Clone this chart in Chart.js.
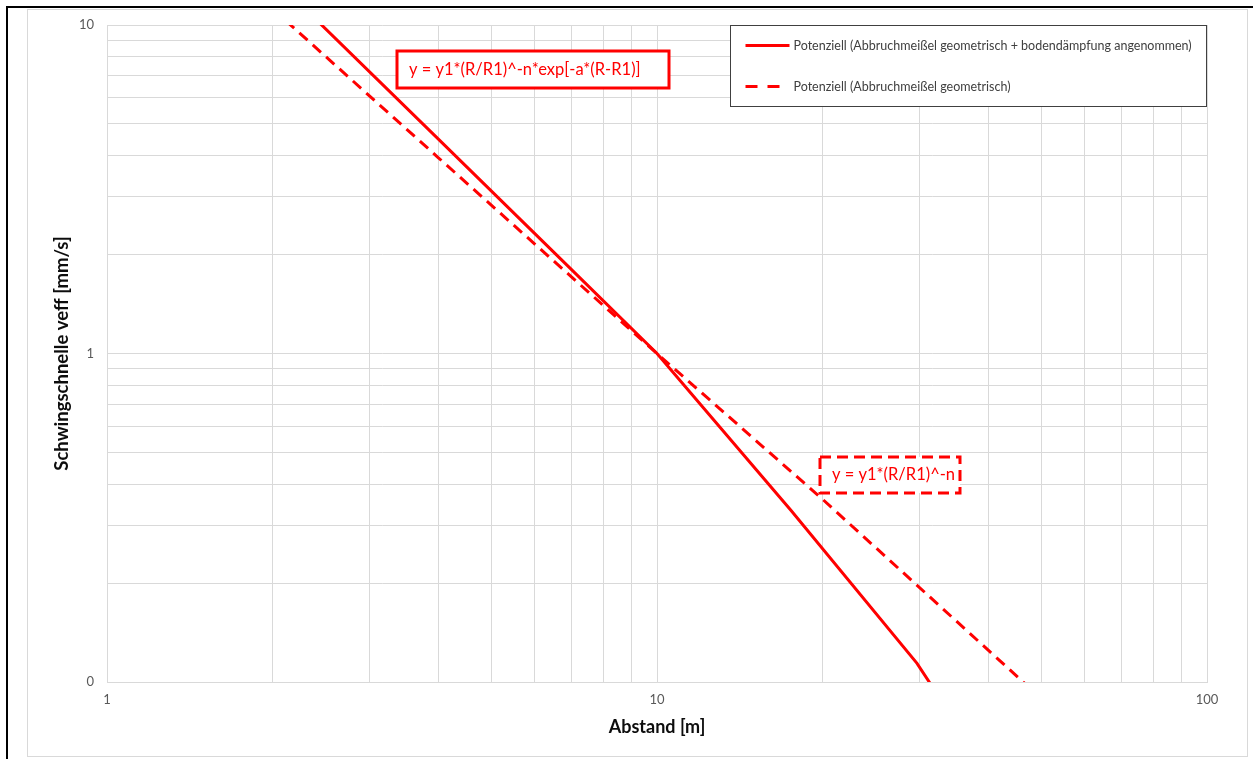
<!DOCTYPE html>
<html>
<head>
<meta charset="utf-8">
<script src="https://cdn.jsdelivr.net/npm/chart.js@4.4.0/dist/chart.umd.min.js"></script>
<style>
    html, body { margin: 0; padding: 0; background: #fff; }
    #wrap { position: relative; width: 1253px; height: 759px; }
</style>
</head>
<body>
<div id="wrap"><canvas id="veffChart" width="1253" height="759"></canvas></div>
<script>
// Abstand [m] / Schwingschnelle [mm/s]
const abstandSolid = [2, 4, 6.7, 10, 17.5, 29.7, 50];
const veffSolid = [14.0, 4.5, 1.93, 1.0, 0.334, 0.114, 0.03];

const abstandDashed = [2, 4, 10, 20, 50];
const veffDashed = [11.2, 3.95, 1.0, 0.36, 0.089];

const xTicks = [1, 2, 3, 4, 5, 6, 7, 8, 9, 10, 20, 30, 40, 50, 60, 70, 80, 90, 100];
const yTicks = [0.1, 0.2, 0.3, 0.4, 0.5, 0.6, 0.7, 0.8, 0.9, 1, 2, 3, 4, 5, 6, 7, 8, 9, 10];
const xLabels = { 1: '1', 10: '10', 100: '100' };
const yLabels = { 0.1: '0', 1: '1', 10: '10' };

const seriesNames = [
    'Potenziell (Abbruchmeißel geometrisch + bodendämpfung angenommen)',
    'Potenziell (Abbruchmeißel geometrisch)'
];
const formulaSolid = 'y = y1*(R/R1)^-n*exp[-a*(R-R1)]';
const formulaDashed = 'y = y1*(R/R1)^-n';

const RED = '#ff0000';
const GRID = '#d9d9d9';

function toPoints(xs, ys) {
    return xs.map((x, i) => ({ x: x, y: ys[i] }));
}

// outer frame like the exported picture
const framePlugin = {
    id: 'frame',
    beforeDraw(chart) {
        const ctx = chart.ctx;
        ctx.save();
        ctx.fillStyle = '#fff';
        ctx.fillRect(0, 0, chart.width, chart.height);
        ctx.strokeStyle = '#d9d9d9';
        ctx.lineWidth = 1;
        ctx.strokeRect(27.5, 9.5, 1220, 747);
        ctx.strokeStyle = '#000';
        ctx.lineWidth = 2;
        ctx.beginPath();
        ctx.moveTo(7, 759);
        ctx.lineTo(7, 7);
        ctx.lineTo(1253, 7);
        ctx.stroke();
        ctx.restore();
    }
};

// legend box + formula boxes
const boxPlugin = {
    id: 'boxes',
    afterDatasetsDraw(chart) {
        const ctx = chart.ctx;
        const area = chart.chartArea;
        ctx.save();

        // legend
        const lx = 730.5, ly = 25.5, lw = 476, lh = 81;
        ctx.fillStyle = '#fff';
        ctx.fillRect(lx, ly, lw, lh);
        ctx.strokeStyle = '#404040';
        ctx.lineWidth = 1;
        ctx.strokeRect(lx, ly, lw, lh);
        ctx.font = '12.5px Lato';
        ctx.fillStyle = '#404040';
        ctx.textBaseline = 'middle';
        chart.data.datasets.forEach((ds, i) => {
            const yy = ly + 20 + i * 41;
            ctx.strokeStyle = ds.borderColor;
            ctx.lineWidth = 3;
            ctx.setLineDash(ds.borderDash ? [12, 10] : []);
            ctx.beginPath();
            ctx.moveTo(lx + 15, yy);
            ctx.lineTo(lx + 59, yy);
            ctx.stroke();
            ctx.setLineDash([]);
            ctx.fillText(ds.label, lx + 63, yy);
        });

        // formula boxes
        const drawBox = (x, y, w, h, text, dash) => {
            ctx.fillStyle = '#fff';
            ctx.fillRect(x, y, w, h);
            ctx.strokeStyle = RED;
            ctx.lineWidth = 3;
            ctx.setLineDash(dash);
            ctx.strokeRect(x, y, w, h);
            ctx.setLineDash([]);
            ctx.fillStyle = RED;
            ctx.font = '16.5px Lato';
            ctx.textBaseline = 'middle';
            ctx.fillText(text, x + 12, y + h / 2);
        };
        drawBox(area.left + 290, area.top + 26, 272, 37, formulaSolid, []);
        drawBox(area.left + 713, area.top + 432, 140, 36, formulaDashed, [11, 6]);
        ctx.restore();
    }
};

const ctx = document.getElementById('veffChart').getContext('2d');
const chart = new Chart(ctx, {
    type: 'line',
    data: {
        datasets: [{
            label: seriesNames[0],
            data: toPoints(abstandSolid, veffSolid),
            borderColor: RED,
            borderWidth: 3,
            pointRadius: 0,
            tension: 0
        }, {
            label: seriesNames[1],
            data: toPoints(abstandDashed, veffDashed),
            borderColor: RED,
            borderWidth: 3,
            borderDash: [11, 7],
            pointRadius: 0,
            tension: 0
        }]
    },
    options: {
        responsive: false,
        animation: false,
        layout: { padding: { left: 28, top: 25, right: 46, bottom: 17 } },
        plugins: {
            legend: { display: false },
            tooltip: { enabled: false }
        },
        scales: {
            x: {
                type: 'logarithmic',
                min: 1,
                max: 100,
                afterBuildTicks: (scale) => { scale.ticks = xTicks.map(v => ({ value: v })); },
                afterFit: (scale) => { scale.height = 60; },
                grid: { color: GRID, lineWidth: 1, drawTicks: false },
                border: { color: GRID },
                ticks: {
                    autoSkip: false,
                    maxRotation: 0,
                    padding: 10,
                    color: '#595959',
                    font: { family: 'Lato', size: 13 },
                    callback: (v) => xLabels[v] || ''
                },
                title: {
                    display: true,
                    text: 'Abstand [m]',
                    color: '#0d0d0d',
                    font: { family: 'Lato', size: 18, weight: 'bold' },
                    padding: { top: 0, bottom: 4 }
                }
            },
            y: {
                type: 'logarithmic',
                min: 0.1,
                max: 10,
                afterBuildTicks: (scale) => { scale.ticks = yTicks.map(v => ({ value: v })); },
                afterFit: (scale) => { scale.width = 79; },
                grid: { color: GRID, lineWidth: 1, drawTicks: false },
                border: { color: GRID },
                ticks: {
                    autoSkip: false,
                    padding: 13,
                    color: '#595959',
                    font: { family: 'Lato', size: 13 },
                    callback: (v) => yLabels[v] || ''
                },
                title: {
                    display: true,
                    text: 'Schwingschnelle veff [mm/s]',
                    color: '#0d0d0d',
                    font: { family: 'Lato', size: 18.5, weight: 'bold' },
                    padding: { top: 23, bottom: 0 }
                }
            }
        }
    },
    plugins: [framePlugin, boxPlugin]
});
</script>
</body>
</html>
